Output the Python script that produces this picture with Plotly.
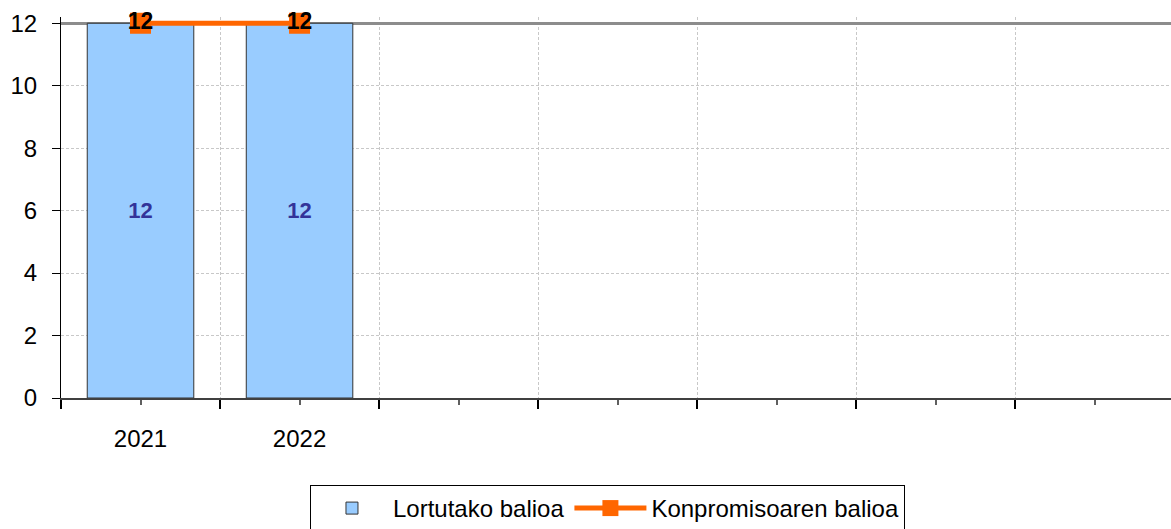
import plotly.graph_objects as go

categories = ["2021", "2022"]
n_slots = 7
lortutako = [12, 12]
konpromiso = [12, 12]
y_ticks = [0, 2, 4, 6, 8, 10, 12]
y_max = 12
y_pad = 0.2

xpos = list(range(len(categories)))
tick_text = categories + [""] * (n_slots - len(categories))
FONT = "Arial, Liberation Sans, sans-serif"

fig = go.Figure()
fig.add_trace(go.Bar(
    x=xpos, y=lortutako, name="Lortutako balioa",
    marker=dict(color="#99CCFF", line=dict(color="#333333", width=1)),
    text=lortutako, texttemplate="%{y}", textposition="inside",
    insidetextanchor="middle",
    textfont=dict(color="#333399", size=22, family=FONT, weight="bold"),
    hoverinfo="skip",
))
fig.add_trace(go.Scatter(
    x=xpos, y=konpromiso, name="Konpromisoaren balioa",
    mode="lines+markers+text",
    line=dict(color="#FF6600", width=5),
    marker=dict(symbol="square", size=21, color="#FF6600"),
    text=[str(v) for v in konpromiso], textposition="middle center",
    textfont=dict(color="#000000", size=23, family=FONT, weight="bold"),
    cliponaxis=False,
))
# helper trace for the solid top gridline
fig.add_trace(go.Scatter(x=[None], y=[None], yaxis="y2", showlegend=False, hoverinfo="skip"))

px_per_unit = 375 / y_max
top_margin = 23 - y_pad * px_per_unit

fig.update_layout(
    width=1171, height=529,
    margin=dict(l=61, r=0, t=top_margin, b=131, autoexpand=False),
    paper_bgcolor="white", plot_bgcolor="white",
    bargap=0.33,
    font=dict(family=FONT, size=24, color="#000000"),
    showlegend=True,
    legend=dict(
        orientation="h", x=0.2243, xanchor="left", y=-0.2283, yanchor="top",
        bordercolor="#000000", borderwidth=1, bgcolor="white",
        font=dict(size=24, family=FONT), itemwidth=72,
        traceorder="normal", tracegroupgap=0,
    ),
    xaxis=dict(
        range=[-0.5, n_slots - 0.52],
        tickmode="array", tickvals=list(range(n_slots)), ticktext=tick_text,
        ticks="outside", ticklen=5, tickcolor="#606060", tickwidth=2,
        showgrid=False, zeroline=False, automargin=False,
        showline=True, linecolor="#404040", linewidth=2,
        tickfont=dict(size=24, family=FONT),
        ticklabelstandoff=13,
        minor=dict(
            tickvals=[i - 0.5 for i in range(n_slots + 1)],
            ticks="outside", ticklen=9, tickcolor="#000000", tickwidth=2,
            showgrid=True, gridcolor="#C8C8C8", griddash="3px,2px", gridwidth=1,
        ),
    ),
    yaxis=dict(
        range=[0, y_max + y_pad], tickmode="array", tickvals=y_ticks,
        ticks="outside", ticklen=8, tickcolor="#000000", tickwidth=1,
        showgrid=True, gridcolor="#C8C8C8", griddash="3px,2px", gridwidth=1,
        zeroline=False, showline=True, linecolor="#000000", linewidth=1,
        tickfont=dict(size=24, family=FONT), automargin=False,
        ticklabelstandoff=10,
    ),
    yaxis2=dict(
        overlaying="y", range=[0, y_max + y_pad], tickmode="array", tickvals=[y_max],
        showticklabels=False, ticks="", showline=False, zeroline=False,
        showgrid=True, gridcolor="#8C8C8C", gridwidth=3, automargin=False,
    ),
)

fig.write_html(
    "out.html",
    config={"displayModeBar": False},
    post_script="document.body.style.margin='0';document.body.style.overflow='hidden';",
)
